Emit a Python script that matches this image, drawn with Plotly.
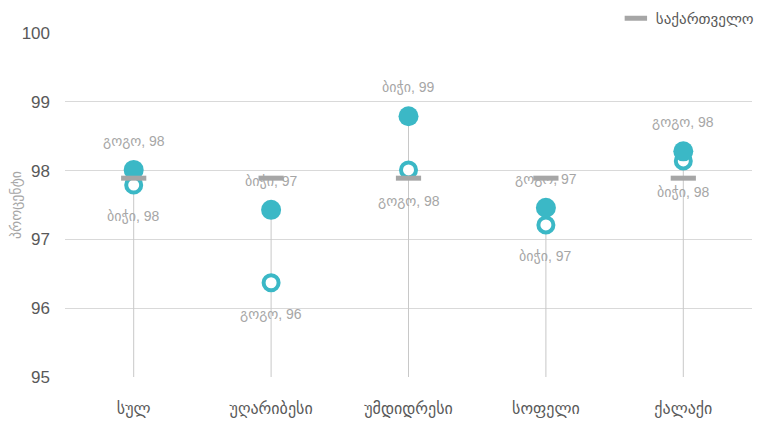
import plotly.graph_objects as go

# categories and values
categories = ["სულ", "უღარიბესი", "უმდიდრესი", "სოფელი", "ქალაქი"]
high_values = [98.01, 97.43, 98.79, 97.46, 98.28]
high_labels = ["გოგო", "ბიჭი", "ბიჭი", "გოგო", "გოგო"]
low_values = [97.79, 96.37, 98.01, 97.21, 98.14]
low_labels = ["ბიჭი", "გოგო", "გოგო", "ბიჭი", "ბიჭი"]
georgia = [97.89, 97.89, 97.89, 97.89, 97.89]

teal = "#3bb8c6"
grey_text = "#a6a6a6"
axis_text = "#595959"
font = "Liberation Sans, DejaVu Sans, sans-serif"

fig = go.Figure()

# stems from the bottom of the axis up to the higher point
stem_x, stem_y = [], []
for c, h in zip(categories, high_values):
    stem_x += [c, c, None]
    stem_y += [95, h, None]
fig.add_trace(go.Scatter(x=stem_x, y=stem_y, mode="lines",
                         line=dict(color="#c8c8c8", width=1),
                         showlegend=False, hoverinfo="skip"))

fig.add_trace(go.Scatter(x=categories, y=low_values, mode="markers",
                         marker=dict(size=15, color="white",
                                     line=dict(color=teal, width=4)),
                         showlegend=False))
fig.add_trace(go.Scatter(x=categories, y=high_values, mode="markers",
                         marker=dict(size=20, color=teal),
                         showlegend=False))
fig.add_trace(go.Scatter(x=categories, y=georgia, mode="markers",
                         name="საქართველო",
                         marker=dict(symbol="line-ew", size=18,
                                     line=dict(color="#a6a6a6", width=5))))

for c, v, g in zip(categories, high_values, high_labels):
    fig.add_annotation(x=c, y=v, text=f"{g}, {round(v)}", showarrow=False,
                       yshift=29, font=dict(size=14, color=grey_text, family=font))
for c, v, g in zip(categories, low_values, low_labels):
    fig.add_annotation(x=c, y=v, text=f"{g}, {round(v)}", showarrow=False,
                       yshift=-31, font=dict(size=14, color=grey_text, family=font))

# the page body has an 8px margin, so the figure is a little smaller
fig.update_layout(
    width=761, height=420,
    margin=dict(l=57, r=17, t=25, b=51, autoexpand=False),
    plot_bgcolor="white", paper_bgcolor="white",
    font=dict(family=font, color=axis_text),
    legend=dict(orientation="h", x=1.01, xanchor="right", yref="container",
                y=0.975, yanchor="middle",
                font=dict(size=15, color=axis_text), itemwidth=30,
                bgcolor="rgba(0,0,0,0)"),
    xaxis=dict(showgrid=False, showline=False, zeroline=False,
               range=[-0.5, 4.5], tickfont=dict(size=16, color=axis_text),
               ticklabelstandoff=20, automargin=False),
    yaxis=dict(range=[95, 100], dtick=1, gridcolor="#d9d9d9", gridwidth=1,
               zeroline=False, showline=False, automargin=True,
               tickfont=dict(size=17, color=axis_text), ticklabelstandoff=14,
               title=dict(text="პროცენტი", font=dict(size=14, color=grey_text),
                          standoff=3)),
    showlegend=True,
)

fig.write_html("out.html")
